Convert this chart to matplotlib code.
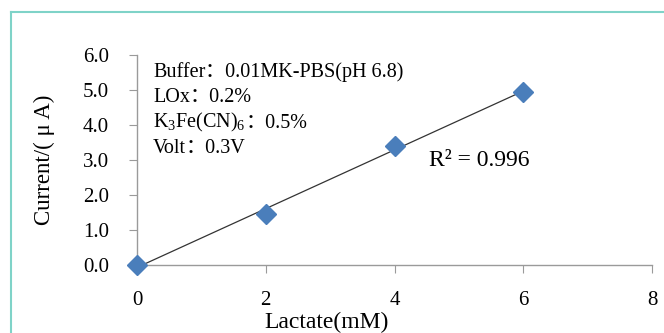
import matplotlib

matplotlib.use("Agg")
import matplotlib.pyplot as plt
import numpy as np
from matplotlib.lines import Line2D

# data
lactate_mm = [0, 2, 4, 6]
current_ua = [0.0, 1.45, 3.4, 4.95]
x_ticks = [0, 2, 4, 6, 8]
y_ticks = [0.0, 1.0, 2.0, 3.0, 4.0, 5.0, 6.0]
# each note: (part drawn with mathtext or plain, rest after the full-width colon)
notes = [
    ("Buffer", "：0.01MK-PBS(pH 6.8)"),
    ("LOx", "：0.2%"),
    (r"K$_3$Fe(CN)$_6$", "：0.5%"),
    ("Volt", "：0.3V"),
]
r2_label = "R² = 0.996"


def main() -> None:
    plt.rcParams["font.family"] = ["Liberation Serif", "Noto Sans CJK SC", "DejaVu Sans"]
    plt.rcParams["mathtext.fontset"] = "custom"
    plt.rcParams["mathtext.rm"] = "Liberation Serif"
    plt.rcParams["mathtext.it"] = "Liberation Serif:italic"

    fig = plt.figure(figsize=(6.64, 3.33), dpi=100)
    border = "#7fd3c8"
    fig.add_artist(Line2D([0.0166, 1.0], [0.964, 0.964], transform=fig.transFigure,
                          color=border, linewidth=1.5))
    fig.add_artist(Line2D([0.0166, 0.0166], [0.0, 0.964], transform=fig.transFigure,
                          color=border, linewidth=1.5))
    ax = fig.add_axes([0.2063, 0.2042, 0.7757, 0.6306])

    x = np.array(lactate_mm, dtype=float)
    y = np.array(current_ua)
    slope, intercept = np.polyfit(x, y, 1)
    ax.plot([x.min(), x.max()], [slope * x.min() + intercept, slope * x.max() + intercept],
            color="#333333", linewidth=0.9, zorder=2)
    ax.plot(x, y, linestyle="none", marker="D", markersize=10.5,
            color="#4a7ebb", zorder=3, clip_on=False)

    ax.set_xlim(0, 8)
    ax.set_ylim(0, 6)
    ax.set_xticks(x_ticks)
    ax.set_yticks(y_ticks)
    ax.set_xticklabels([str(t) for t in x_ticks])
    ax.set_yticklabels([f"{t:.1f}" for t in y_ticks])
    for side in ("top", "right"):
        ax.spines[side].set_visible(False)
    for side in ("left", "bottom"):
        ax.spines[side].set_color("#9a9a9a")
        ax.spines[side].set_linewidth(1.0)
    ax.tick_params(axis="both", direction="out", length=6, color="#9a9a9a",
                   labelsize=15, labelcolor="black")
    ax.tick_params(axis="y", pad=14)
    ax.tick_params(axis="x", pad=13)

    ax.set_xlabel("Lactate(mM)", fontsize=17)
    ax.xaxis.set_label_coords(0.369, -0.222)
    ax.set_ylabel("Current/( μ A)", fontsize=16.5)
    ax.yaxis.set_label_coords(-0.159, 0.5)

    for i, (head, rest) in enumerate(notes):
        y_line = 0.895 - i * 0.121
        t = ax.text(0.031, y_line, head, transform=ax.transAxes,
                    fontsize=14.5, va="baseline", ha="left")
        ax.annotate(rest, xy=(1.0, y_line), xycoords=(t, "axes fraction"),
                    fontsize=14.5, va="baseline", ha="left")
    ax.text(0.566, 0.50, r2_label, transform=ax.transAxes, fontsize=17,
            va="center", ha="left")

    fig.savefig("out.png", dpi=100)
    plt.close(fig)


if __name__ == "__main__":
    main()
